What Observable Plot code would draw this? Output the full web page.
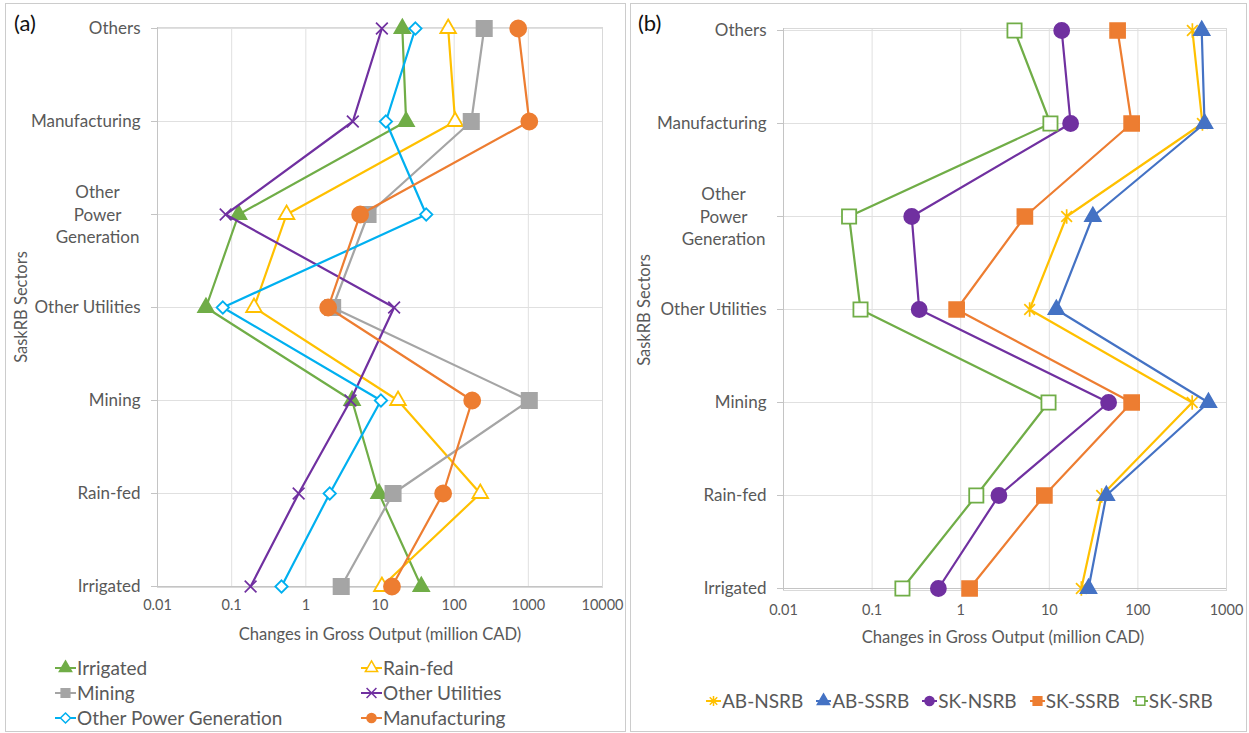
<!DOCTYPE html>
<html>
<head>
<meta charset="utf-8">
<script src="https://cdn.jsdelivr.net/npm/d3@7"></script>
<script src="https://cdn.jsdelivr.net/npm/@observablehq/plot@0.6"></script>
<style>
  body { margin: 0; background: #fff; font-family: Lato, "Open Sans", sans-serif; color: #595959; }
  #page { position: relative; width: 1249px; height: 733px; overflow: hidden; }
  .panel { position: absolute; top: 3px; height: 729px; border: 1px solid #cccccc; box-sizing: border-box; }
  .chart { position: absolute; top: 3px; }
  .tag { position: absolute; font-size: 22px; color: #111; line-height: 1; }
  .ytitle { position: absolute; font-size: 16.5px; white-space: nowrap; transform: translate(-50%, -50%) rotate(-90deg); }
  .xtitle { position: absolute; font-size: 16.6px; white-space: nowrap; transform: translate(-50%, -50%); }
  .legend { position: absolute; font-size: 19px; white-space: nowrap; line-height: 25px; }
  .legend .li { display: inline-flex; align-items: center; }
  .legend svg { display: block; margin-right: 1px; }
</style>
</head>
<body>
<div id="page">
  <div class="panel" style="left:5px; width:621px;"></div>
  <div class="panel" style="left:630px; width:617px;"></div>
  <div id="chartA" class="chart" style="left:5px;"></div>
  <div id="chartB" class="chart" style="left:632px;"></div>
  <div class="tag" style="left:14px; top:12px;">(a)</div>
  <div class="tag" style="left:638px; top:12px;">(b)</div>
  <div class="ytitle" style="left:21px; top:307px;">SaskRB Sectors</div>
  <div class="ytitle" style="left:644px; top:310px;">SaskRB Sectors</div>
  <div class="xtitle" style="left:380px; top:634px;">Changes in Gross Output (million CAD)</div>
  <div class="xtitle" style="left:1003px; top:637px;">Changes in Gross Output (million CAD)</div>
  <div id="legendA" class="legend" style="left:55px; top:655px;"></div>
  <div id="legendB" class="legend" style="left:706px; top:688px;"></div>
</div>
<script>
// Sectors, top to bottom
const sectors = ["Others", "Manufacturing", "Other Power Generation", "Other Utilities", "Mining", "Rain-fed", "Irrigated"];

// Panel (a): change in gross output of each sector (million CAD), one series per affected sector
const aIrrigated            = [20, 22.5, 0.124, 0.045, 4.2, 9.7, 36];
const aRainfed              = [83, 103, 0.55, 0.2, 17.5, 225, 10.6];
const aMining               = [254, 170, 6.9, 2.3, 1030, 15, 3.0];
const aOtherUtilities       = [10.6, 4.3, 0.083, 15.5, 4.0, 0.8, 0.18];
const aOtherPowerGeneration = [30, 12, 42, 0.076, 10.3, 2.1, 0.47];
const aManufacturing        = [730, 1030, 5.4, 2.0, 175, 71, 14.5];

// Panel (b): change in gross output of each sector (million CAD), one series per sub-basin
const bABNSRB = [412, 535, 15.7, 6.0, 410, 39, 23];
const bABSSRB = [525, 565, 31, 12, 625, 44, 27.7];
const bSKNSRB = [13.8, 17.4, 0.28, 0.34, 46.7, 2.7, 0.56];
const bSKSSRB = [59, 85, 5.3, 0.9, 85, 8.8, 1.26];
const bSKSRB  = [4.05, 10.3, 0.055, 0.074, 9.8, 1.5, 0.22];

// Log-axis ticks and their labels
const xTicksA = [0.01, 0.1, 1, 10, 100, 1000, 10000];
const xTickLabelsA = ["0.01", "0.1", "1", "10", "100", "1000", "10000"];
const xTicksB = [0.01, 0.1, 1, 10, 100, 1000];
const xTickLabelsB = ["0.01", "0.1", "1", "10", "100", "1000"];

const wrappedSector = "Other Power Generation";
const wrappedLabel = "Other\nPower\nGeneration";

// Star marker: an X crossed by a vertical stroke
const symbolStar = {
  draw(context, size) {
    const r = Math.sqrt(size) * 0.62;
    const d = r * 0.75;
    context.moveTo(0, -r); context.lineTo(0, r);
    context.moveTo(-d, -d); context.lineTo(d, d);
    context.moveTo(-d, d); context.lineTo(d, -d);
  }
};

// Marker styles
const symbols = {
  triangle: d3.symbolTriangle, square: d3.symbolSquare, circle: d3.symbolCircle,
  diamond: d3.symbolDiamond2, times: d3.symbolTimes, star: symbolStar
};
const strokeOnly = new Set(["times", "star"]);

const seriesA = [
  {name: "Irrigated", values: aIrrigated, color: "#70AD47", symbol: "triangle", open: false, r: 5.8},
  {name: "Rain-fed", values: aRainfed, color: "#FFC000", symbol: "triangle", open: true, r: 5.8},
  {name: "Mining", values: aMining, color: "#A5A5A5", symbol: "square", open: false, r: 8.6},
  {name: "Other Utilities", values: aOtherUtilities, color: "#7030A0", symbol: "times", open: false, r: 5.4},
  {name: "Other Power Generation", values: aOtherPowerGeneration, color: "#00B0F0", symbol: "diamond", open: true, r: 5.6},
  {name: "Manufacturing", values: aManufacturing, color: "#ED7D31", symbol: "circle", open: false, r: 8}
];
const seriesB = [
  {name: "AB-NSRB", values: bABNSRB, color: "#FFC000", symbol: "star", open: false, r: 6.5},
  {name: "AB-SSRB", values: bABSSRB, color: "#4472C4", symbol: "triangle", open: false, r: 5.8},
  {name: "SK-NSRB", values: bSKNSRB, color: "#7030A0", symbol: "circle", open: false, r: 7.5},
  {name: "SK-SSRB", values: bSKSSRB, color: "#ED7D31", symbol: "square", open: false, r: 8.4},
  {name: "SK-SRB", values: bSKSRB, color: "#70AD47", symbol: "square", open: true, r: 8}
];

function drawPanel({series, ticks, labels, width, height, marginLeft, marginRight, marginTop, marginBottom, tickPadX}) {
  const marks = [
    Plot.gridX(ticks, {stroke: "#e0e0e0", strokeOpacity: 1}),
    Plot.gridY(sectors, {stroke: "#e0e0e0", strokeOpacity: 1}),
    Plot.frame({stroke: "#d9d9d9"}),
    Plot.ruleX([ticks[0]], {stroke: "#c4c4c4"}),
    Plot.ruleY([sectors[sectors.length - 1]], {stroke: "#c4c4c4"}),
    Plot.axisX(ticks, {
      tickSize: 0, tickPadding: tickPadX, fontSize: 14.5, fill: "#595959", label: null,
      tickFormat: d => labels[ticks.indexOf(d)]
    }),
    Plot.axisY(sectors, {
      tickSize: 6, tickPadding: 11, fontSize: 17, fill: "#595959", stroke: "#c4c4c4", label: null,
      tickFormat: d => d === wrappedSector ? "" : d
    }),
    Plot.text([wrappedSector], {
      y: d => d, frameAnchor: "left", text: () => wrappedLabel,
      textAnchor: "middle", dx: -60, dy: -1, lineHeight: 1.33, fontSize: 17, fill: "#595959"
    })
  ];
  for (const s of series) {
    const rows = s.values.map((v, i) => ({sector: sectors[i], value: v}));
    marks.push(Plot.line(rows, {
      x: "value", y: "sector", stroke: s.color, strokeWidth: 2.2, strokeLinejoin: "round"
    }));
    const so = strokeOnly.has(s.symbol);
    marks.push(Plot.dot(rows, {
      x: "value", y: "sector", symbol: symbols[s.symbol], r: s.r,
      fill: so ? "none" : (s.open ? "white" : s.color),
      stroke: s.color, strokeWidth: so ? 1.7 : 1.8
    }));
  }
  return Plot.plot({
    width, height, marginLeft, marginRight, marginTop, marginBottom,
    style: {fontFamily: "Lato, 'Open Sans', sans-serif", color: "#595959", background: "transparent", overflow: "visible"},
    x: {type: "log", domain: [ticks[0], ticks[ticks.length - 1]]},
    y: {type: "point", domain: sectors, padding: 0},
    marks
  });
}

document.getElementById("chartA").append(drawPanel({
  series: seriesA, ticks: xTicksA, labels: xTickLabelsA,
  width: 620, height: 620, marginLeft: 152, marginRight: 23, marginTop: 24, marginBottom: 36, tickPadX: 12
}));
document.getElementById("chartB").append(drawPanel({
  series: seriesB, ticks: xTicksB, labels: xTickLabelsB,
  width: 614, height: 620, marginLeft: 151, marginRight: 20, marginTop: 25, marginBottom: 33, tickPadX: 14
}));

// Legends
function legendItem(s, w) {
  const h = 18;
  const path = d3.symbol(symbols[s.symbol], s.symbol === "square" ? 75 : 65)();
  const so = strokeOnly.has(s.symbol);
  const fill = so ? "none" : (s.open ? "#fff" : s.color);
  return `<span class="li"><svg width="${w}" height="${h}">` +
    `<line x1="0" x2="${w}" y1="${h / 2}" y2="${h / 2}" stroke="${s.color}" stroke-width="2"/>` +
    `<path transform="translate(${w / 2},${h / 2})" d="${path}" fill="${fill}" stroke="${s.color}" stroke-width="1.5"/>` +
    `</svg>${s.name}</span>`;
}
const legA = document.getElementById("legendA");
legA.style.display = "grid";
legA.style.gridTemplateColumns = "306px 220px";
legA.innerHTML = seriesA.map(s => legendItem(s, 21)).join("");
const legB = document.getElementById("legendB");
legB.style.display = "flex";
legB.style.gap = "13px";
legB.innerHTML = seriesB.map(s => legendItem(s, 15)).join("");
</script>
</body>
</html>
